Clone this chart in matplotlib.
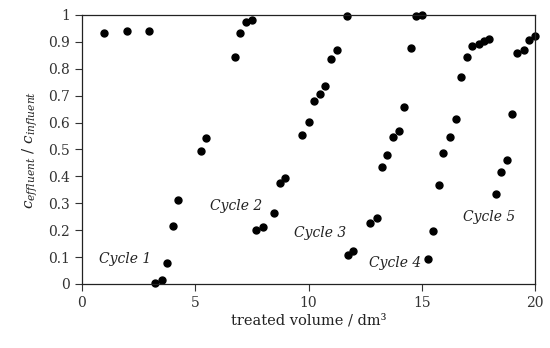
import matplotlib
matplotlib.use("Agg")
import matplotlib.pyplot as plt

# === Daten ===
volume = [
    0.98, 1.97, 2.96,
    3.22, 3.52, 3.74, 4.00, 4.22, 5.25, 5.47, 6.74, 6.99, 7.24, 7.52,
    7.68, 8.00, 8.48, 8.74, 8.96, 9.73, 10.02, 10.23, 10.51, 10.73, 10.99, 11.26, 11.70,
    11.73, 11.98, 12.72, 13.01, 13.23, 13.48, 13.71, 13.98, 14.20, 14.50, 14.73, 15.00,
    15.25, 15.47, 15.76, 15.95, 16.25, 16.51, 16.72, 17.00, 17.20, 17.50, 17.76, 17.98,
    18.26, 18.48, 18.75, 18.98, 19.22, 19.51, 19.72, 20.00,
]
ratio = [
    0.932, 0.942, 0.940,
    0.005, 0.015, 0.078, 0.216, 0.312, 0.496, 0.543, 0.845, 0.932, 0.973, 0.983,
    0.201, 0.211, 0.263, 0.377, 0.393, 0.553, 0.602, 0.680, 0.706, 0.735, 0.836, 0.869, 0.997,
    0.108, 0.123, 0.226, 0.247, 0.434, 0.480, 0.548, 0.570, 0.658, 0.879, 0.997, 1.000,
    0.092, 0.198, 0.368, 0.488, 0.548, 0.612, 0.768, 0.845, 0.886, 0.892, 0.903, 0.912,
    0.336, 0.418, 0.461, 0.631, 0.860, 0.869, 0.906, 0.922,
]

cycle_labels = ["Cycle 1", "Cycle 2", "Cycle 3", "Cycle 4", "Cycle 5"]
cycle_x = [1.9, 6.82, 10.5, 13.82, 17.99]
cycle_y = [0.093, 0.29, 0.19, 0.078, 0.25]

x_ticks = [0, 5, 10, 15, 20]
y_ticks = [0, 0.1, 0.2, 0.3, 0.4, 0.5, 0.6, 0.7, 0.8, 0.9, 1]
y_tick_labels = ["0", "0.1", "0.2", "0.3", "0.4", "0.5", "0.6", "0.7", "0.8", "0.9", "1"]

# === Stil ===
plt.rcParams["font.family"] = ["DejaVu Serif"]
plt.rcParams["mathtext.fontset"] = "dejavuserif"

fig = plt.figure(figsize=(5.5, 3.48), dpi=100)
ax = fig.add_axes([0.149, 0.184, 0.824, 0.773])

ax.plot(volume, ratio, "o", color="black", markersize=5.0, clip_on=False)

for label, x, y in zip(cycle_labels, cycle_x, cycle_y):
    ax.text(x, y, label, fontsize=10, style="italic", ha="center", va="center",
            color="#222222")

ax.set_xlim(0, 20)
ax.set_ylim(0, 1)
ax.set_xticks(x_ticks)
ax.set_yticks(y_ticks)
ax.set_yticklabels(y_tick_labels)
ax.tick_params(axis="both", direction="out", length=5, width=0.8, labelsize=10,
               colors="#333333", labelcolor="#333333")

for side in ["top", "right", "left", "bottom"]:
    ax.spines[side].set_linewidth(0.9)
    ax.spines[side].set_color("#222222")

ax.set_xlabel("treated volume / dm³", fontsize=10.5, color="#222222", labelpad=3)
ax.set_ylabel(r"$c_{effluent}\ /\ c_{influent}$", fontsize=11, color="#222222",
              labelpad=6)

fig.savefig("out.png", dpi=100)
